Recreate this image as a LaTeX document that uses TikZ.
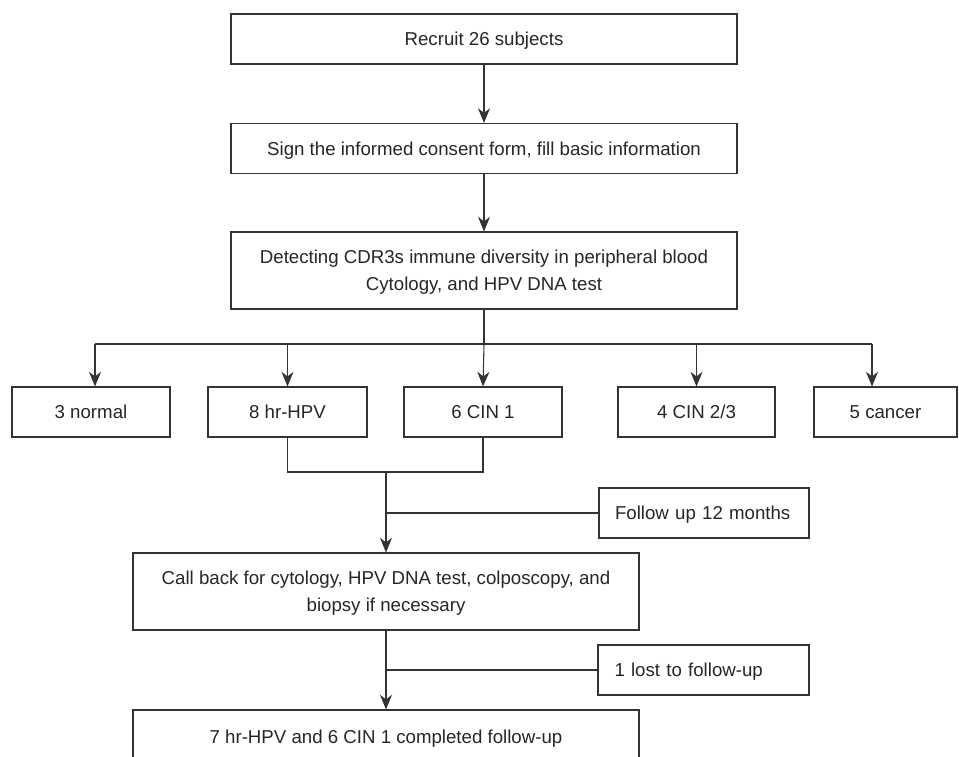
\documentclass[tikz,border=0pt]{standalone}
\usepackage{fontspec}
\setmainfont{Liberation Sans}
\usepackage{xcolor}
\usetikzlibrary{arrows.meta}

\definecolor{linegray}{HTML}{333333}

\tikzset{
    base/.style={draw=linegray, line width=0.8pt, inner sep=0pt, align=center,
        minimum height=37.5pt, text=black!85, font=\fontsize{14}{20}\selectfont},
    box/.style={base, text height=10pt, text depth=-2pt},
    wide/.style={box, minimum width=379.5pt},
    twoline/.style={base, minimum width=379.5pt, minimum height=57.75pt, text depth=-3pt},
    sidebox/.style={box, minimum width=157.5pt, text width=133.5pt, align=left},
    ln/.style={draw=linegray, line width=0.8pt},
    arr/.style={ln, -{Stealth[length=11pt,width=9pt,inset=3.5pt]}},
}

\begin{document}
\begin{tikzpicture}[x=0.75pt,y=-0.75pt]
    \useasboundingbox (0,0) rectangle (959,756);
    \clip (0,0) rectangle (959,756);

    % Main column
    \node[wide] (recruit) at (484,39) {Recruit 26 subjects};
    \node[wide] (sign) at (484,148.5) {Sign the informed consent form, fill basic information};
    \node[twoline] (detect) at (484,270.5)
        {Detecting CDR3s immune diversity in peripheral blood\\Cytology, and HPV DNA test};

    \draw[arr] (recruit) -- (sign);
    \draw[arr] (sign) -- (detect);

    % Groups
    \foreach \n / \x / \w / \t in {normal/91/118.5/{3 normal}, hpv/287.5/119.25/{8 hr-HPV},
            cin/483/118.5/{6 CIN 1}, cinhigh/696.5/117.75/{4 CIN 2/3}, cancer/885.5/107.25/{5 cancer}} {
        \node[box, minimum width=\w pt] (\n) at (\x,412) {\t};
    }

    % Split line
    \coordinate (split) at (484,344);
    \coordinate (bL) at (95,344);
    \coordinate (bR) at (872,344);
    \draw[ln] (detect.south) -- (split);
    \draw[ln] (bL) -- (bR);
    \draw[arr] (bL) -- (bL |- normal.north);
    \draw[arr] (hpv.north |- split) -- (hpv.north);
    \draw[arr] (split) -- (cin.north);
    \draw[arr] (cinhigh.north |- split) -- (cinhigh.north);
    \draw[arr] (bR) -- (bR |- cancer.north);

    % Follow up
    \node[twoline] (callback) at (386,591.5)
        {Call back for cytology, HPV DNA test, colposcopy, and\\biopsy if necessary};
    \node[sidebox] (follow) at (704,513) {Follow up 12 months};

    \coordinate (join) at (386,472);
    \draw[ln] (hpv.south) |- (join) -| (cin.south);
    \draw[arr] (join) -- (callback.north);
    \draw[ln] (join |- follow.west) -- (follow.west);

    % Completed
    \node[wide, minimum height=40.5pt] (final) at (386,737)
        {7 hr-HPV and 6 CIN 1 completed follow-up};
    \node[sidebox, minimum width=158.25pt] (lost) at (703.5,670) {1 lost to follow-up};

    \draw[arr] (callback.south) -- (final.north);
    \draw[ln] (callback.south |- lost.west) -- (lost.west);

\end{tikzpicture}
\end{document}
